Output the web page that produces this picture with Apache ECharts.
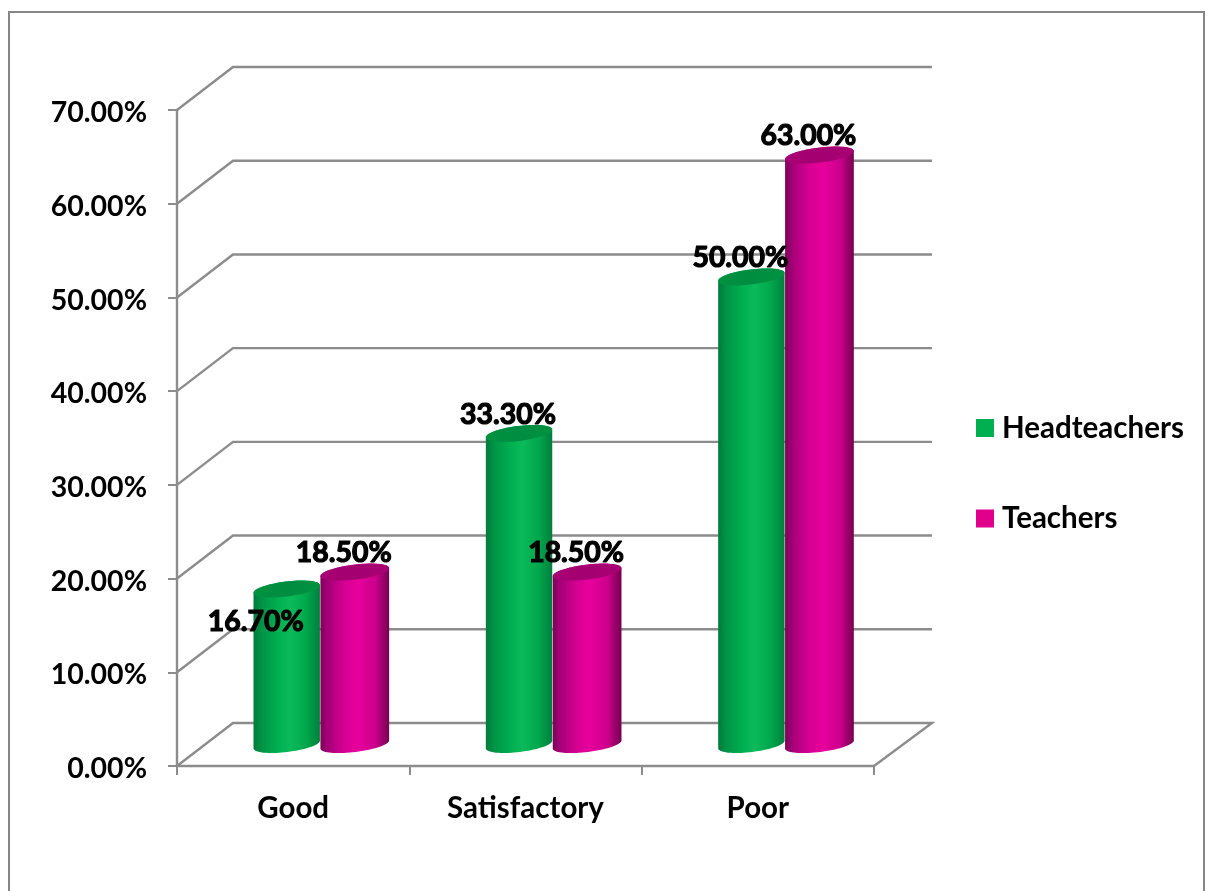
<!DOCTYPE html>
<html>
<head>
<meta charset="utf-8">
<style>html,body{margin:0;padding:0;background:#fff;overflow:hidden}#main{width:1210px;height:891px}</style>
<script src="https://cdn.jsdelivr.net/npm/echarts@6/dist/echarts.min.js"></script>
</head>
<body>
<div id="main"></div>
<script>
const categories = ['Good', 'Satisfactory', 'Poor'];
const headteachers = [16.7, 33.3, 50.0];
const teachers = [18.5, 18.5, 63.0];
const yTicks = [0, 10, 20, 30, 40, 50, 60, 70];

const FONT = 'Lato';
const DEPTH_L = 56, DEPTH_R = 58, DEPTH_Y = 43;
const GRID_COLOR = '#8c8c8c';
const chart = echarts.init(document.getElementById('main'), null, {renderer: 'canvas'});
const G = echarts.graphic;

function ellipsePts(cx, cy, rx, ry, rot, from, to) {
  const pts = [], n = 36, c = Math.cos(rot), s = Math.sin(rot);
  for (let i = 0; i <= n; i++) {
    const t = from + (to - from) * i / n;
    const x = rx * Math.cos(t), y = ry * Math.sin(t);
    pts.push([cx + x * c - y * s, cy + x * s + y * c]);
  }
  return pts;
}

function grad(stops) {
  return new G.LinearGradient(0, 0, 1, 0, stops.map(s => ({offset: s[0], color: s[1]})));
}

const palettes = {
  green: {
    body: grad([[0, '#007b3c'], [0.12, '#009346'], [0.35, '#00ad50'], [0.55, '#0abb5a'], [0.8, '#00a64b'], [1, '#007f3e']]),
    cap: grad([[0, '#00923f'], [0.5, '#008c42'], [1, '#00933f']]),
  },
  pink: {
    body: grad([[0, '#7c0058'], [0.12, '#a8007a'], [0.35, '#d60092'], [0.55, '#e8009c'], [0.8, '#cc008c'], [1, '#750050']]),
    cap: grad([[0, '#a80075'], [0.5, '#a30070'], [1, '#a80075']]),
  }
};

function cylinder(palette, barIndex, widthFactor, labelShift) {
  return function (params, api) {
    const cat = api.value(0), val = api.value(1);
    const band = api.size([1, 0])[0];
    const base = api.coord([cat, 0]);
    const top = api.coord([cat, val]);
    const rx = band * widthFactor / 2;
    const cx = base[0] + DEPTH_L / 2 - 1 + (barIndex === 0 ? -rx : rx);
    const yb = base[1] - DEPTH_Y / 2;
    const yt = top[1] - DEPTH_Y / 2 + 1;
    const ry = 7.5, rot = -7 * Math.PI / 180;
    const lower = ellipsePts(cx, yb, rx, ry, rot, 0, Math.PI);
    const upper = ellipsePts(cx, yt, rx, ry, rot, Math.PI, 2 * Math.PI);
    const shift = labelShift[params.dataIndex] || [0, 0];
    return {
      type: 'group',
      children: [
        {type: 'polygon', shape: {points: upper.concat(lower)}, style: {fill: palette.body}},
        {type: 'polygon', shape: {points: ellipsePts(cx, yt, rx, ry, rot, 0, 2 * Math.PI)}, style: {fill: palette.cap}},
        {
          type: 'text', z2: 50,
          style: {
            x: cx - 11 + shift[0], y: yt - 19 + shift[1],
            text: val.toFixed(2) + '%',
            font: 'bold 28.4px ' + FONT,
            fill: '#000', stroke: '#000', lineWidth: 1.2,
            align: 'center', verticalAlign: 'middle'
          }
        }
      ]
    };
  };
}

function walls(params, api) {
  const v = api.value(0);
  const sys = params.coordSys;
  const y = api.coord([0, v])[1];
  const x0 = sys.x, x1 = sys.x + sys.width;
  const line = {stroke: GRID_COLOR, lineWidth: 2.4, fill: null};
  const points = [[x0, y], [x0 + DEPTH_L, y - DEPTH_Y], [x1 + DEPTH_R, y - DEPTH_Y]];
  if (v === 0) points.push([x1, y]);
  return {type: 'polyline', shape: {points}, style: line, silent: true};
}

const rows = arr => arr.map((v, i) => [i, v]);

chart.setOption({
  animation: false,
  backgroundColor: '#fff',
  graphic: [{
    type: 'rect', silent: true, z: 0,
    shape: {x: 9, y: 12, width: 1195, height: 900},
    style: {fill: null, stroke: '#868686', lineWidth: 2}
  }],
  grid: {left: 177, right: 336, top: 110, bottom: 125, containLabel: false},
  legend: {
    orient: 'vertical',
    left: 976, top: 413,
    padding: 0,
    itemWidth: 18, itemHeight: 18, itemGap: 60.5,
    icon: 'rect',
    data: ['Headteachers', 'Teachers'],
    textStyle: {fontFamily: FONT, fontWeight: 'bold', fontSize: 29.5, color: '#000', padding: [0, 0, 0, 3]}
  },
  xAxis: {
    type: 'category',
    data: categories,
    axisLine: {lineStyle: {color: GRID_COLOR, width: 2.4}},
    axisTick: {show: true, length: 9, alignWithLabel: false, lineStyle: {color: GRID_COLOR, width: 2}},
    axisLabel: {margin: 27, fontFamily: FONT, fontWeight: 'bold', fontSize: 29.5, color: '#000'},
    splitLine: {show: false}
  },
  yAxis: {
    type: 'value',
    min: 0, max: 70, interval: 10,
    axisLine: {show: true, lineStyle: {color: GRID_COLOR, width: 2.4}},
    axisTick: {show: true, length: 9, lineStyle: {color: GRID_COLOR, width: 2}},
    axisLabel: {margin: 30, color: '#000',
      formatter: v => '{a|' + v.toFixed(2) + '%}',
      rich: {a: {fontFamily: FONT, fontWeight: 'bold', fontSize: 28.5, color: '#000', padding: [6, 0, 0, 0]}}},
    splitLine: {show: false}
  },
  series: [
    {type: 'custom', name: 'walls', silent: true, z: 1, coordinateSystem: 'cartesian2d',
      data: yTicks.map(v => [v]), encode: {y: 0}, renderItem: walls},
    {type: 'custom', name: 'Headteachers', coordinateSystem: 'cartesian2d',
      itemStyle: {color: '#00b050'}, data: rows(headteachers), encode: {x: 0, y: 1},
      renderItem: cylinder(palettes.green, 0, 0.288, {0: [-20, 52]})},
    {type: 'custom', name: 'Teachers', coordinateSystem: 'cartesian2d',
      itemStyle: {color: '#e0008c'}, data: rows(teachers), encode: {x: 0, y: 1},
      renderItem: cylinder(palettes.pink, 1, 0.298, {})}
  ]
});
</script>
</body>
</html>
